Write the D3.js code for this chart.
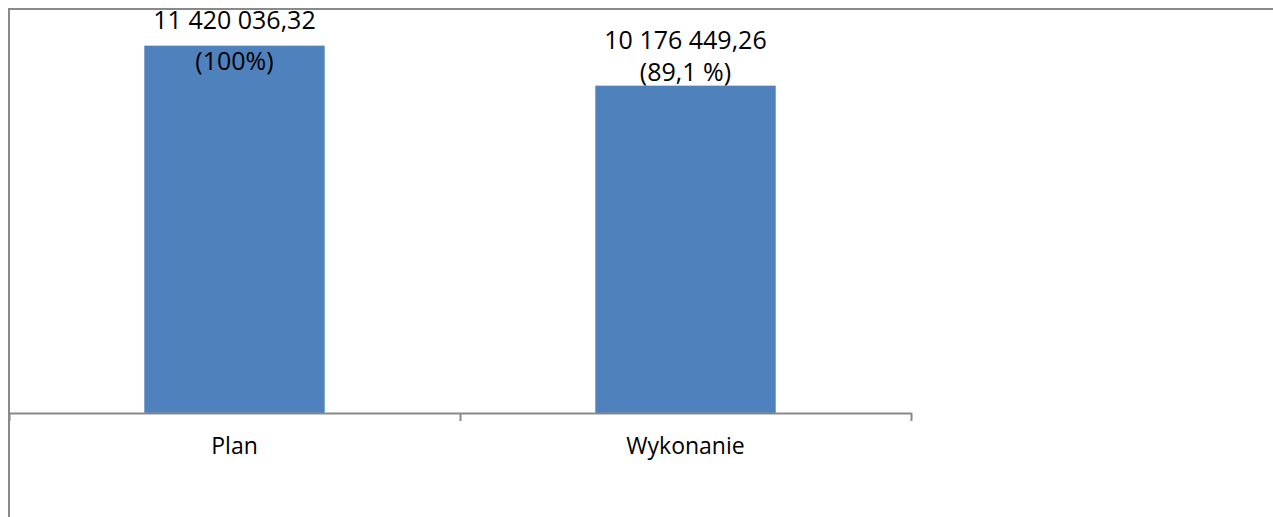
<!DOCTYPE html>
<html>
<head>
<meta charset="utf-8">
<script src="https://cdn.jsdelivr.net/npm/d3@7"></script>
<style>
  html, body { margin: 0; padding: 0; background: #fff; }
  svg { display: block; }
  text { font-family: "Open Sans", "Noto Sans", sans-serif; fill: #000; }
</style>
</head>
<body>
<svg id="chart" width="1273" height="517"></svg>
<script>
// ---- data ----
const categories = ["Plan", "Wykonanie"];
const values = [11420036.32, 10176449.26];
const valueLabels = ["11 420 036,32", "10 176 449,26"];
const percentLabels = ["(100%)", "(89,1 %)"];
const yMax = 12000000;

// ---- layout / style ----
const W = 1273, H = 517;
const plot = { left: 9, right: 911, top: 27, bottom: 413 };
const barColor = "#4F81BD";
const lineColor = "#898989";
const catFontSize = 23;
const valFontSize = 25;
// per-label line offsets relative to bar top (baseline of line1, line2)
const labelOffsets = [[-17, 24], [-37, -5]];

const svg = d3.select("#chart");

// outer chart border (only top & left visible in the window)
svg.append("rect")
  .attr("x", 9).attr("y", 9)
  .attr("width", W + 20).attr("height", H + 20)
  .attr("fill", "none")
  .attr("stroke", lineColor)
  .attr("stroke-width", 2);

const x = d3.scaleBand()
  .domain(categories)
  .range([plot.left, plot.right])
  .paddingInner(0).paddingOuter(0);

const y = d3.scaleLinear()
  .domain([0, yMax])
  .range([plot.bottom, plot.top]);

const barW = x.bandwidth() * 0.4;

// bars
svg.append("g").selectAll("rect")
  .data(categories)
  .join("rect")
  .attr("x", (d) => x(d) + (x.bandwidth() - barW) / 2)
  .attr("y", (d, i) => y(values[i]))
  .attr("width", barW)
  .attr("height", (d, i) => y(0) - y(values[i]))
  .attr("fill", barColor);

// axis line + ticks between categories
const tickScale = d3.scaleLinear().domain([0, categories.length]).range([plot.left, plot.right]);
const tickAxis = d3.axisBottom(tickScale)
  .tickValues(d3.range(0, categories.length + 1))
  .tickFormat("")
  .tickSize(8)
  .tickSizeOuter(0);
const gTick = svg.append("g")
  .attr("transform", `translate(0,${plot.bottom})`)
  .call(tickAxis);
gTick.select(".domain").attr("stroke", lineColor).attr("stroke-width", 2);
gTick.selectAll(".tick line").attr("stroke", lineColor).attr("stroke-width", 2);

// category labels
const labelAxis = d3.axisBottom(x).tickSize(0).tickPadding(0);
const gLab = svg.append("g")
  .attr("transform", `translate(0,${plot.bottom})`)
  .call(labelAxis);
gLab.select(".domain").remove();
gLab.selectAll(".tick text")
  .attr("dy", null)
  .attr("y", 41)
  .style("font-family", '"Open Sans", "Noto Sans", sans-serif')
  .style("font-size", catFontSize + "px")
  .attr("fill", "#000");

// data labels
const gVal = svg.append("g");
categories.forEach((c, i) => {
  const cx = x(c) + x.bandwidth() / 2;
  const top = y(values[i]);
  gVal.append("text")
    .attr("x", cx).attr("y", top + labelOffsets[i][0])
    .attr("text-anchor", "middle")
    .style("font-size", valFontSize + "px")
    .text(valueLabels[i]);
  gVal.append("text")
    .attr("x", cx).attr("y", top + labelOffsets[i][1])
    .attr("text-anchor", "middle")
    .style("font-size", valFontSize + "px")
    .text(percentLabels[i]);
});
</script>
</body>
</html>
